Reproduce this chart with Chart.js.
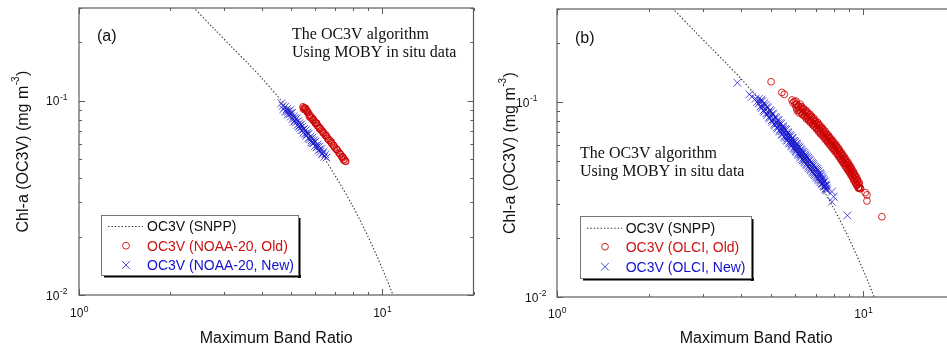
<!DOCTYPE html>
<html>
<head>
<meta charset="utf-8">
<script src="https://cdn.jsdelivr.net/npm/chart.js@4.4.1/dist/chart.umd.min.js"></script>
<style>
  html, body { margin: 0; padding: 0; background: #fff; overflow: hidden; }
  #wrap { position: relative; width: 947px; height: 348px; overflow: hidden; }
  #wrap canvas { position: absolute; top: 0; }
</style>
</head>
<body>
<div id="wrap">
  <canvas id="panelA" width="480" height="348" style="left:0px"></canvas>
  <canvas id="panelB" width="492" height="348" style="left:470px"></canvas>
</div>
<script>
// axis limits and tick positions (log-log)
const ratioMin = 1, ratioMax = 20;
const chlMin = 0.01, chlMax = 0.3;
const ratioMajor = [1, 10];
const ratioMinor = [2, 3, 4, 5, 6, 7, 8, 9, 20];
const chlMajor = [0.01, 0.1];
const chlMinor = [0.02, 0.03, 0.04, 0.05, 0.06, 0.07, 0.08, 0.09, 0.2, 0.3];

// OC3V (SNPP) curve, sampled along the dotted line
const snppRatio = [2.3, 2.8, 3.2, 3.6, 4.0, 4.6, 5.3, 6.0, 7.0, 8.0, 9.0, 10.0, 11.0];
const snppChl = [0.32, 0.233, 0.188, 0.156, 0.131, 0.102, 0.078, 0.060, 0.041, 0.0286, 0.0198, 0.0137, 0.0095];

// (a) NOAA-20 matchups [band ratio, chl]
const noaaOld = [
  [5.48,0.093],[5.52,0.092],[5.55,0.0905],[5.58,0.0915],[5.62,0.089],[5.66,0.0875],[5.7,0.087],
  [5.74,0.0845],[5.78,0.084],[5.82,0.082],[5.86,0.0815],[5.9,0.0795],[5.95,0.079],[6.0,0.0775],
  [6.05,0.077],[6.1,0.0745],[6.15,0.074],[6.2,0.0725],[6.25,0.072],[6.3,0.0705],[6.36,0.0695],
  [6.42,0.068],[6.48,0.0665],[6.55,0.0655],[6.6,0.064],[6.68,0.0625],[6.75,0.062],[6.82,0.060],
  [6.9,0.059],[6.96,0.0575],[7.05,0.0565],[7.12,0.0555],[7.2,0.054],[7.28,0.053],[7.35,0.0515],
  [7.42,0.051],[7.5,0.050],[7.58,0.0487],[7.45,0.0495],[6.02,0.0765],[5.6,0.0905],
  [5.5,0.0905],[5.64,0.0885],[5.76,0.0825],[5.92,0.0805],[6.08,0.0765],[6.22,0.0715],[6.38,0.0685],
  [6.52,0.0665],[6.65,0.0635],[6.8,0.061],[6.93,0.0585],[7.08,0.056],[7.24,0.0535],[7.4,0.0515],[7.55,0.049]
];
const noaaNew = [
  [4.65,0.097],[4.7,0.094],[4.72,0.0905],[4.78,0.093],[4.8,0.0885],[4.85,0.0905],[4.88,0.085],
  [4.9,0.088],[4.95,0.0855],[4.98,0.0895],[5.0,0.083],[5.04,0.0865],[5.06,0.0805],[5.1,0.083],
  [5.12,0.078],[5.15,0.0815],[5.2,0.0775],[5.22,0.081],[5.25,0.075],[5.28,0.0785],[5.3,0.0735],
  [5.33,0.0765],[5.36,0.0725],[5.4,0.0755],[5.42,0.0705],[5.46,0.0735],[5.5,0.0685],[5.52,0.0715],
  [5.56,0.0675],[5.6,0.0705],[5.62,0.066],[5.66,0.0685],[5.7,0.064],[5.72,0.0675],[5.76,0.0635],
  [5.8,0.0655],[5.84,0.061],[5.88,0.0645],[5.9,0.0605],[5.95,0.0625],[6.0,0.0585],[6.02,0.0615],
  [6.08,0.0575],[6.12,0.0595],[6.16,0.0555],[6.2,0.058],[6.25,0.0545],[6.3,0.0565],[6.34,0.053],
  [6.4,0.0545],[6.45,0.0515],[6.5,0.053],[6.55,0.051],[5.0,0.086],[5.5,0.071],[5.85,0.0625],[6.2,0.056],
  [4.85,0.088],[5.15,0.079],[5.35,0.0745],[5.65,0.067],[5.95,0.0605],[6.1,0.058],[6.35,0.0535]
];

// (b) OLCI matchups [band ratio, chl]
const olciOld = [
  [5.0,0.127],[5.42,0.112],[5.52,0.1095],[5.85,0.1024],[5.9,0.099],[5.95,0.1005],
  [6.0,0.0966],[6.03,0.101],[6.08,0.0905],[6.12,0.0955],[6.2,0.0922],[6.22,0.0975],[6.17,0.088],
  [6.3,0.0945],[6.33,0.086],[6.4,0.0882],[6.38,0.0925],[6.44,0.0845],[6.5,0.0905],[6.52,0.082],
  [6.6,0.0844],[6.58,0.0885],[6.63,0.0805],[6.7,0.0865],[6.72,0.0785],[6.8,0.0805],[6.78,0.0845],
  [6.83,0.0765],[6.9,0.0825],[6.92,0.075],[7.0,0.0765],[6.98,0.080],[7.03,0.0728],[7.1,0.0785],
  [7.12,0.071],[7.2,0.0729],[7.18,0.0765],[7.23,0.069],[7.3,0.0745],[7.32,0.0676],[7.4,0.0694],
  [7.38,0.0728],[7.43,0.066],[7.5,0.071],[7.52,0.0642],[7.6,0.0659],[7.58,0.069],[7.63,0.0626],
  [7.7,0.0674],[7.72,0.061],[7.8,0.0626],[7.78,0.0657],[7.83,0.0595],[7.9,0.064],[7.92,0.058],
  [8.0,0.0596],[7.98,0.0626],[8.03,0.0566],[8.1,0.061],[8.12,0.0553],[8.2,0.0568],[8.18,0.0596],
  [8.23,0.054],[8.3,0.058],[8.32,0.0525],[8.4,0.0537],[8.38,0.0564],[8.43,0.051],[8.5,0.0548],
  [8.52,0.0496],[8.6,0.0508],[8.58,0.0533],[8.63,0.0483],[8.7,0.0519],[8.72,0.047],[8.8,0.0481],
  [8.78,0.0505],[8.83,0.0457],[8.9,0.0491],[8.92,0.0445],[9.0,0.0456],[8.98,0.0479],[9.03,0.0433],
  [9.1,0.0465],[9.12,0.0421],[9.2,0.043],[9.18,0.0452],[9.23,0.0409],[9.3,0.0438],[9.32,0.0396],
  [9.4,0.0404],[9.38,0.0424],[9.43,0.0384],[9.5,0.0412],[9.52,0.0373],[9.6,0.038],[9.58,0.0399],
  [9.63,0.0362],[9.7,0.0385],[9.72,0.036],[9.8,0.0359],[9.75,0.0365],
  [6.05,0.0979],[6.05,0.0931],[6.15,0.0956],[6.15,0.091],[6.25,0.0935],[6.25,0.0889],
  [6.35,0.0914],[6.35,0.087],[6.45,0.0895],[6.45,0.0851],[6.55,0.0875],[6.55,0.0833],
  [6.65,0.0856],[6.65,0.0814],[6.75,0.0835],[6.75,0.0795],[6.85,0.0815],[6.85,0.0775],
  [6.95,0.0794],[6.95,0.0756],[7.05,0.0775],[7.05,0.0737],[7.15,0.0756],[7.15,0.072],
  [7.25,0.0738],[7.25,0.0702],[7.35,0.072],[7.35,0.0685],[7.45,0.0702],[7.45,0.0668],
  [7.55,0.0685],[7.55,0.0651],[7.65,0.0667],[7.65,0.0635],[7.75,0.065],[7.75,0.0618],
  [7.85,0.0634],[7.85,0.0604],[7.95,0.0619],[7.95,0.0589],[8.05,0.0604],[8.05,0.0574],
  [8.15,0.0589],[8.15,0.0561],[8.25,0.0574],[8.25,0.0546],[8.35,0.0559],[8.35,0.0531],
  [8.45,0.0543],[8.45,0.0517],[8.55,0.0528],[8.55,0.0502],[8.65,0.0514],[8.65,0.0488],
  [8.75,0.05],[8.75,0.0476],[8.85,0.0487],[8.85,0.0463],[8.95,0.0474],[8.95,0.045],
  [9.05,0.0461],[9.05,0.0439],[9.15,0.0448],[9.15,0.0426],[9.25,0.0435],[9.25,0.0413],
  [9.35,0.0421],[9.35,0.0401],[9.45,0.0408],[9.45,0.0388],[9.55,0.0396],[9.55,0.0376],
  [9.65,0.0384],[9.65,0.0366],
  [10.15,0.0343],[10.28,0.0334],[10.28,0.0311],[11.5,0.0258]
];
const olciNew = [
  [3.88,0.1256],[4.25,0.1095],[4.33,0.1064],[4.45,0.104],[4.5,0.1],[4.55,0.098],
  [4.6,0.1005],[4.62,0.095],[4.57,0.104],[4.7,0.0958],[4.68,0.101],[4.72,0.0905],
  [4.8,0.0965],[4.82,0.0875],[4.78,0.092],[4.9,0.0883],[4.88,0.0935],[4.92,0.0835],
  [5.0,0.0895],[5.02,0.0805],[4.98,0.085],[5.1,0.0815],[5.08,0.0865],[5.12,0.077],
  [5.2,0.083],[5.22,0.074],[5.18,0.0785],[5.3,0.0756],[5.28,0.0805],[5.32,0.0715],[5.26,0.078],
  [5.4,0.0775],[5.42,0.0685],[5.38,0.0729],[5.44,0.071],[5.5,0.0703],[5.48,0.0745],[5.52,0.0665],[5.46,0.0725],
  [5.6,0.072],[5.62,0.064],[5.58,0.0678],[5.64,0.066],[5.7,0.0655],[5.68,0.0695],[5.72,0.062],[5.66,0.0675],
  [5.8,0.067],[5.82,0.06],[5.78,0.0633],[5.84,0.0615],[5.9,0.0612],[5.88,0.065],[5.92,0.058],[5.86,0.063],
  [6.0,0.0625],[6.02,0.056],[5.98,0.0592],[6.04,0.0575],[6.1,0.0573],[6.08,0.0605],[6.12,0.0543],[6.06,0.059],
  [6.2,0.0585],[6.22,0.0527],[6.18,0.0555],[6.24,0.054],[6.3,0.0538],[6.28,0.0567],[6.32,0.051],[6.26,0.0552],
  [6.4,0.055],[6.42,0.0495],[6.38,0.0521],[6.44,0.0508],[6.5,0.0506],[6.48,0.0532],[6.52,0.048],[6.46,0.052],
  [6.6,0.0516],[6.62,0.0467],[6.58,0.0491],[6.7,0.0477],[6.68,0.0502],[6.72,0.0453],
  [6.8,0.0486],[6.82,0.044],[6.78,0.0463],[6.9,0.045],[6.88,0.0472],[6.92,0.0428],
  [7.0,0.0458],[7.02,0.0416],[6.98,0.0437],[7.1,0.0425],[7.08,0.0445],[7.12,0.0405],
  [7.2,0.0432],[7.22,0.0395],[7.18,0.0414],[7.3,0.0402],[7.28,0.042],[7.32,0.0383],
  [7.4,0.0385],[7.38,0.0403],[7.42,0.0372],[7.5,0.0372],[7.48,0.039],[7.52,0.036],
  [7.6,0.036],[7.58,0.0372],[7.62,0.0352],
  [4.65,0.1028],[4.65,0.093],[4.75,0.0986],[4.75,0.0892],[4.85,0.0946],[4.85,0.0856],
  [4.95,0.0909],[4.95,0.0823],[5.05,0.0874],[5.05,0.079],[5.15,0.084],[5.15,0.076],
  [5.25,0.081],[5.25,0.0732],[5.35,0.078],[5.35,0.0706],[5.45,0.0752],[5.45,0.068],
  [5.55,0.0726],[5.55,0.0656],[5.65,0.07],[5.65,0.0634],[5.75,0.0676],[5.75,0.0612],
  [5.85,0.0654],[5.85,0.0592],[5.95,0.0632],[5.95,0.0572],[6.05,0.0612],[6.05,0.0554],
  [6.15,0.0592],[6.15,0.0536],[6.25,0.0574],[6.25,0.052],[6.35,0.0556],[6.35,0.0503],
  [6.45,0.054],[6.45,0.0488],[6.55,0.0524],[6.55,0.0474],[6.65,0.0508],[6.65,0.046],
  [6.75,0.0494],[6.75,0.0447],[6.85,0.048],[6.85,0.0434],[6.95,0.0466],[6.95,0.0422],
  [7.05,0.0453],[7.05,0.0409],[7.15,0.0441],[7.15,0.0399],[7.25,0.0428],[7.25,0.0388],
  [7.35,0.0413],[7.35,0.038],[7.45,0.0397],[7.45,0.0368],[7.55,0.0378],[7.55,0.0355],
  [7.9,0.0347],[8.0,0.0327],[7.9,0.0308],[8.87,0.0262]
];

const legendText = ['#111111', '#cc1111', '#1111cc'];
const sans = '"Liberation Sans", Arial, sans-serif';
const serif = '"Liberation Serif", "Times New Roman", serif';

const toXY = pairs => pairs.map(([x, y]) => ({ x, y }));

// "10" with a raised exponent
function drawPow(ctx, exp, x, y, align) {
  ctx.font = '12px ' + sans;
  const wb = ctx.measureText('10').width;
  ctx.font = '8.5px ' + sans;
  const we = ctx.measureText(exp).width;
  const x0 = align === 'center' ? x - (wb + we) / 2 : x - wb - we;
  ctx.font = '12px ' + sans;
  ctx.fillText('10', x0, y);
  ctx.font = '8.5px ' + sans;
  ctx.fillText(exp, x0 + wb + 0.5, y - 5.5);
}

const axisFrame = {
  id: 'axisFrame',
  afterDraw(chart, args, o) {
    const { ctx, chartArea: a, scales: { x, y } } = chart;
    ctx.save();
    ctx.textBaseline = 'alphabetic';
    ctx.textAlign = 'left';

    // frame
    ctx.strokeStyle = '#5c5c5c';
    ctx.lineWidth = 1.2;
    ctx.strokeRect(a.left, a.top, a.right - a.left, a.bottom - a.top);

    // inward ticks on all four sides
    ctx.lineWidth = 1;
    ctx.beginPath();
    ratioMajor.concat(ratioMinor).forEach(v => {
      const len = ratioMajor.includes(v) ? 6 : 3;
      const px = Math.round(x.getPixelForValue(v)) + 0.5;
      ctx.moveTo(px, a.bottom); ctx.lineTo(px, a.bottom - len);
      ctx.moveTo(px, a.top); ctx.lineTo(px, a.top + len);
    });
    chlMajor.concat(chlMinor).forEach(v => {
      const len = chlMajor.includes(v) ? 6 : 3;
      const py = Math.round(y.getPixelForValue(v)) + 0.5;
      ctx.moveTo(a.left, py); ctx.lineTo(a.left + len, py);
      ctx.moveTo(a.right, py); ctx.lineTo(a.right - len, py);
    });
    ctx.stroke();

    // tick labels
    ctx.fillStyle = '#111';
    ratioMajor.forEach(v => {
      drawPow(ctx, String(Math.round(Math.log10(v))), x.getPixelForValue(v), o.xLabelY, 'center');
    });
    chlMajor.forEach((v, i) => {
      drawPow(ctx, String(Math.round(Math.log10(v))), a.left - o.yLabelGap[i], y.getPixelForValue(v) + 4.5, 'right');
    });

    // axis titles
    ctx.font = '16px ' + sans;
    ctx.textAlign = 'center';
    ctx.fillText('Maximum Band Ratio', (a.left + a.right) / 2, o.xTitleY);

    ctx.save();
    ctx.translate(o.yTitleX, (a.top + a.bottom) / 2);
    ctx.rotate(-Math.PI / 2);
    ctx.textAlign = 'left';
    const main = 'Chl-a (OC3V) (mg m';
    ctx.font = '16px ' + sans;
    const w1 = ctx.measureText(main).width;
    const w3 = ctx.measureText(')').width;
    ctx.font = '10px ' + sans;
    const w2 = ctx.measureText('-3').width;
    let tx = -(w1 + w2 + w3 + 1) / 2;
    ctx.font = '16px ' + sans;
    ctx.fillText(main, tx, 0);
    ctx.font = '10px ' + sans;
    ctx.fillText('-3', tx + w1 + 0.5, -9);
    ctx.font = '16px ' + sans;
    ctx.fillText(')', tx + w1 + w2 + 1, 0);
    ctx.restore();

    // panel tag and note
    ctx.textAlign = 'left';
    ctx.font = '16px ' + sans;
    ctx.fillText(o.tag, o.tagX, o.tagY);
    ctx.font = '16px ' + serif;
    o.note.forEach((line, i) => ctx.fillText(line, o.noteX, o.noteY[i]));

    // legend box with drop shadow
    const L = o.legend;
    ctx.fillStyle = '#000';
    ctx.fillRect(L.x + 3, L.y + L.h, L.w, 2.5);
    ctx.fillRect(L.x + L.w, L.y + 3, 2.5, L.h);
    ctx.fillStyle = '#fff';
    ctx.fillRect(L.x, L.y, L.w, L.h);
    ctx.strokeStyle = '#777';
    ctx.lineWidth = 1;
    ctx.strokeRect(L.x + 0.5, L.y + 0.5, L.w, L.h);

    chart.data.datasets.forEach((ds, i) => {
      const ry = L.rows[i];
      ctx.save();
      if (ds.showLine) {
        ctx.strokeStyle = ds.borderColor;
        ctx.lineWidth = ds.borderWidth;
        ctx.setLineDash(ds.borderDash);
        ctx.beginPath();
        ctx.moveTo(L.line[0], ry + 0.5);
        ctx.lineTo(L.line[1], ry + 0.5);
        ctx.stroke();
      } else if (ds.pointStyle === 'circle') {
        ctx.strokeStyle = ds.pointBorderColor;
        ctx.lineWidth = ds.pointBorderWidth;
        ctx.beginPath();
        ctx.arc(L.markX, ry, ds.pointRadius, 0, Math.PI * 2);
        ctx.stroke();
      } else {
        const d = ds.pointRadius * Math.SQRT1_2;
        ctx.strokeStyle = ds.pointBorderColor;
        ctx.lineWidth = ds.pointBorderWidth;
        ctx.beginPath();
        ctx.moveTo(L.markX - d, ry - d); ctx.lineTo(L.markX + d, ry + d);
        ctx.moveTo(L.markX - d, ry + d); ctx.lineTo(L.markX + d, ry - d);
        ctx.stroke();
      }
      ctx.restore();
      ctx.fillStyle = legendText[i];
      ctx.font = '14px ' + sans;
      ctx.fillText(ds.label, L.textX, ry + 5);
    });
    ctx.restore();
  }
};

function buildPanel(canvasId, oldPairs, newPairs, sensor, frame, pad) {
  return new Chart(document.getElementById(canvasId), {
    type: 'scatter',
    data: {
      datasets: [{
        label: 'OC3V (SNPP)',
        data: snppRatio.map((r, i) => ({ x: r, y: snppChl[i] })),
        showLine: true,
        borderColor: '#333',
        borderWidth: 1.1,
        borderDash: [1.4, 2],
        pointRadius: 0,
        tension: 0.3,
        clip: 0
      }, {
        label: 'OC3V (' + sensor + ', Old)',
        data: toXY(oldPairs),
        pointStyle: 'circle',
        pointRadius: 3.4,
        pointBorderWidth: 1,
        pointBorderColor: 'rgba(204, 0, 0, 0.85)',
        pointBackgroundColor: 'rgba(0, 0, 0, 0)'
      }, {
        label: 'OC3V (' + sensor + ', New)',
        data: toXY(newPairs),
        pointStyle: 'crossRot',
        pointRadius: 5.5,
        pointBorderWidth: 1,
        pointBorderColor: 'rgba(20, 20, 210, 0.75)'
      }]
    },
    options: {
      responsive: false,
      animation: false,
      devicePixelRatio: 1,
      events: [],
      layout: { padding: { top: pad.top, right: pad.right, left: 0, bottom: 0 } },
      scales: {
        x: {
          type: 'logarithmic', min: ratioMin, max: ratioMax,
          grid: { display: false }, border: { display: false },
          ticks: { display: false },
          afterFit: s => { s.height = pad.xAxis; }
        },
        y: {
          type: 'logarithmic', min: chlMin, max: chlMax,
          grid: { display: false }, border: { display: false },
          ticks: { display: false },
          afterFit: s => { s.width = pad.yAxis; }
        }
      },
      plugins: {
        legend: { display: false },
        tooltip: { enabled: false },
        axisFrame: frame
      }
    },
    plugins: [axisFrame]
  });
}

buildPanel('panelA', noaaOld, noaaNew, 'NOAA-20', {
  tag: '(a)', tagX: 97, tagY: 41,
  note: ['The OC3V algorithm', 'Using MOBY in situ data'], noteX: 292, noteY: [38.5, 57],
  legend: { x: 101, y: 215, w: 197, h: 60, rows: [226, 245.7, 265], line: [108, 143], markX: 126, textX: 147 },
  xLabelY: 317, yLabelGap: [12, 12], xTitleY: 343, yTitleX: 27.5
}, { top: 8, right: 3, xAxis: 53, yAxis: 79 });

buildPanel('panelB', olciOld, olciNew, 'OLCI', {
  tag: '(b)', tagX: 105, tagY: 43,
  note: ['The OC3V algorithm', 'Using MOBY in situ data'], noteX: 110, noteY: [158, 176],
  legend: { x: 110, y: 216, w: 171, h: 62, rows: [227.7, 246.7, 266.7], line: [117, 152], markX: 135, textX: 155.7 },
  xLabelY: 318, yLabelGap: [11, 20], xTitleY: 343, yTitleX: 44.5
}, { top: 9, right: 3, xAxis: 51, yAxis: 87 });
</script>
</body>
</html>
